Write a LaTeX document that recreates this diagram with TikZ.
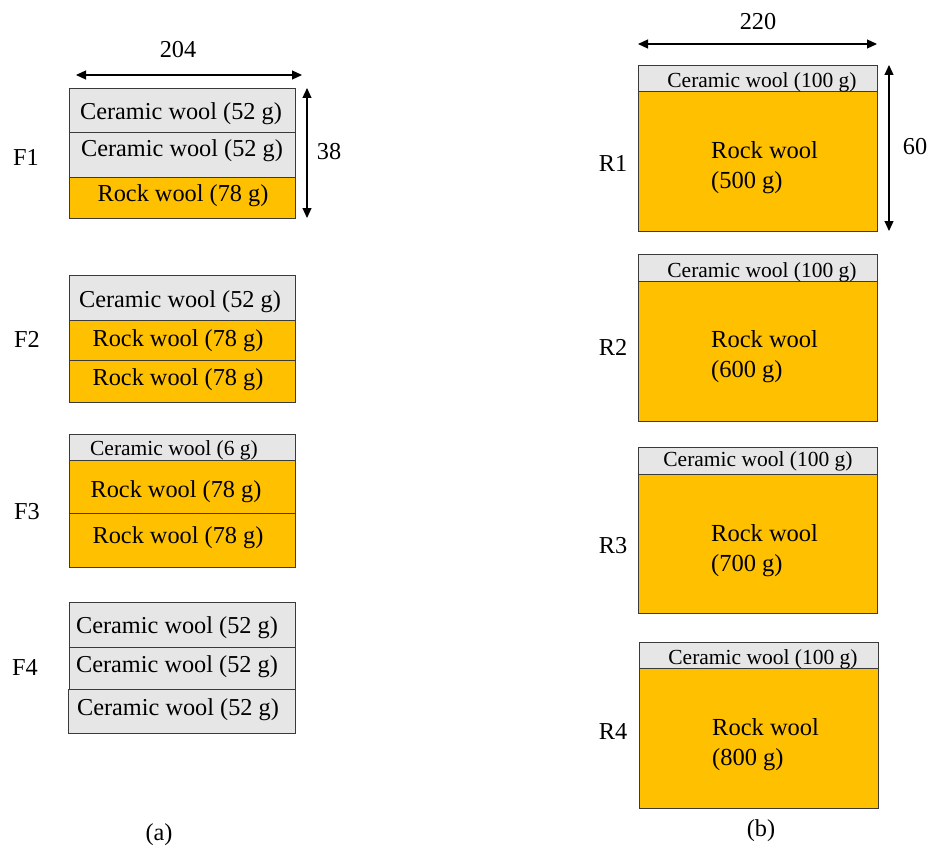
\documentclass[tikz,border=0pt]{standalone}
\usepackage{fontspec}
\setmainfont{Liberation Serif}
\usetikzlibrary{arrows.meta}
\definecolor{cergray}{HTML}{E6E6E6}
\definecolor{rockor}{HTML}{FFC000}
\definecolor{edge}{HTML}{3A3A3A}
\tikzset{
  layer/.style={draw=edge, line width=1pt, inner sep=0pt, anchor=north west},
  cer/.style={layer, fill=cergray},
  rock/.style={layer, fill=rockor},
  txt/.style={font=\fontsize{24.3}{28}\selectfont, inner sep=0pt, text=black},
  smalltxt/.style={font=\fontsize{21.5}{25}\selectfont, inner sep=0pt, text=black},
  rtxt/.style={font=\fontsize{24.5}{30}\selectfont, inner sep=0pt, align=left, anchor=west, text=black},
  dim/.style={{Triangle[length=10pt,width=9pt]}-{Triangle[length=10pt,width=9pt]}, line width=1.2pt, draw=black}
}
\begin{document}
\begin{tikzpicture}[x=1pt,y=-1pt]
\useasboundingbox[fill=white] (0,0) rectangle (932,848);

% ---------- (a) ----------
% F1
\node[cer, minimum width=226pt, minimum height=44pt] (f1a) at (69,88) {};
\node[cer, minimum width=226pt, minimum height=45pt] (f1b) at (69,132) {};
\node[rock, minimum width=226pt, minimum height=41pt] (f1c) at (69,177) {};
\node[txt] (f1at) at (181,114) {Ceramic wool (52 g)};
\node[txt] (f1bt) at (182,151) {Ceramic wool (52 g)};
\node[txt] (f1ct) at (183,196) {Rock wool (78 g)};
\node[txt] (lf1) at (26,157) {F1};
% dimensions
\coordinate (w1) at (76,75);
\coordinate (w2) at (302,75);
\draw[dim] (w1) -- (w2);
\node[txt] (d204) at (178,50) {204};
\coordinate (h1) at (307,88);
\coordinate (h2) at (307,218);
\draw[dim] (h1) -- (h2);
\node[txt] (d38) at (329,152) {38};

% F2
\node[cer, minimum width=226pt, minimum height=45pt] (f2a) at (69,275) {};
\node[rock, minimum width=226pt, minimum height=40pt] (f2b) at (69,320) {};
\node[rock, minimum width=226pt, minimum height=42pt] (f2c) at (69,360) {};
\node[txt] (f2at) at (180,302) {Ceramic wool (52 g)};
\node[txt] (f2bt) at (178,341) {Rock wool (78 g)};
\node[txt] (f2ct) at (178,380) {Rock wool (78 g)};
\node[txt] (lf2) at (27,339) {F2};

% F3
\node[cer, minimum width=226pt, minimum height=26pt] (f3a) at (69,434) {};
\node[rock, minimum width=226pt, minimum height=53pt] (f3b) at (69,460) {};
\node[rock, minimum width=226pt, minimum height=54pt] (f3c) at (69,513) {};
\node[smalltxt] (f3at) at (174,450) {Ceramic wool (6 g)};
\node[txt] (f3bt) at (176,492) {Rock wool (78 g)};
\node[txt] (f3ct) at (178,538) {Rock wool (78 g)};
\node[txt] (lf3) at (27,512) {F3};

% F4
\node[cer, minimum width=226pt, minimum height=45pt] (f4a) at (69,602) {};
\node[cer, minimum width=226pt, minimum height=42pt] (f4b) at (69,647) {};
\node[cer, minimum width=227pt, minimum height=44pt] (f4c) at (68,689) {};
\node[txt] (f4at) at (177,628) {Ceramic wool (52 g)};
\node[txt] (f4bt) at (177,667) {Ceramic wool (52 g)};
\node[txt] (f4ct) at (178,710) {Ceramic wool (52 g)};
\node[txt] (lf4) at (25,667) {F4};

\node[txt] (capa) at (159,835) {(a)};

% ---------- (b) ----------
% R1
\node[cer, minimum width=239pt, minimum height=26pt] (r1a) at (638,65) {};
\node[rock, minimum width=239pt, minimum height=140pt] (r1b) at (638,91) {};
\node[smalltxt] (r1at) at (762,82) {Ceramic wool (100 g)};
\node[rtxt] (r1bt) at (711,168) {Rock wool\\(500 g)};
\node[txt] (lr1) at (613,163) {R1};
\coordinate (w3) at (638,44);
\coordinate (w4) at (877,44);
\draw[dim] (w3) -- (w4);
\node[txt] (d220) at (758,22) {220};
\coordinate (h3) at (889,65);
\coordinate (h4) at (889,231);
\draw[dim] (h3) -- (h4);
\node[txt] (d60) at (915,147) {60};

% R2
\node[cer, minimum width=239pt, minimum height=27pt] (r2a) at (638,254) {};
\node[rock, minimum width=239pt, minimum height=140pt] (r2b) at (638,281) {};
\node[smalltxt] (r2at) at (762,272) {Ceramic wool (100 g)};
\node[rtxt] (r2bt) at (711,357) {Rock wool\\(600 g)};
\node[txt] (lr2) at (613,347) {R2};

% R3
\node[cer, minimum width=239pt, minimum height=27pt] (r3a) at (638,447) {};
\node[rock, minimum width=239pt, minimum height=139pt] (r3b) at (638,474) {};
\node[smalltxt] (r3at) at (758,461) {Ceramic wool (100 g)};
\node[rtxt] (r3bt) at (711,551) {Rock wool\\(700 g)};
\node[txt] (lr3) at (613,546) {R3};

% R4
\node[cer, minimum width=239pt, minimum height=26pt] (r4a) at (639,642) {};
\node[rock, minimum width=239pt, minimum height=140pt] (r4b) at (639,668) {};
\node[smalltxt] (r4at) at (763,659) {Ceramic wool (100 g)};
\node[rtxt] (r4bt) at (712,745) {Rock wool\\(800 g)};
\node[txt] (lr4) at (613,731) {R4};

\node[txt] (capb) at (761,831) {(b)};
\end{tikzpicture}
\end{document}
